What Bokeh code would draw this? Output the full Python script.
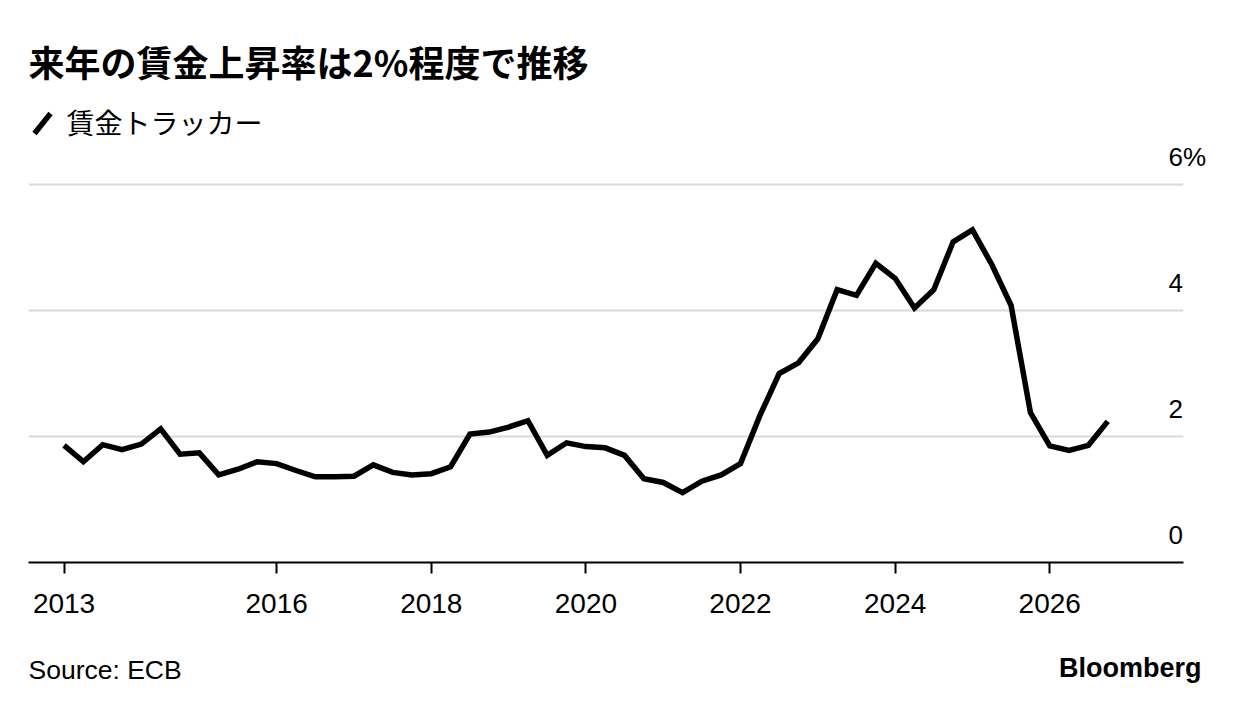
from bokeh.plotting import figure
from bokeh.layouts import column
from bokeh.models import Range1d, FixedTicker, NumeralTickFormatter, Label
from bokeh.embed import file_html
from bokeh.resources import INLINE

# ---------------- data ----------------
title_text = "来年の賃金上昇率は2%程度で推移"
series_name = "賃金トラッカー"
source_text = "Source: ECB"
brand_text = "Bloomberg"

# quarterly observations 2013Q2 .. 2026Q4
quarters = [f"{y}Q{q}" for y in range(2013, 2027) for q in range(1, 5)][1:]
wage_tracker = [
    1.86, 1.60, 1.87, 1.79, 1.88, 2.12, 1.72, 1.74, 1.39, 1.48,
    1.60, 1.57, 1.46, 1.36, 1.36, 1.37, 1.55, 1.43, 1.39, 1.41,
    1.52, 2.04, 2.07, 2.15, 2.25, 1.70, 1.90, 1.84, 1.82, 1.70,
    1.33, 1.27, 1.11, 1.29, 1.39, 1.57, 2.33, 3.00, 3.17, 3.55,
    4.33, 4.24, 4.75, 4.51, 4.04, 4.33, 5.09, 5.28, 4.73, 4.08,
    2.38, 1.85, 1.78, 1.86, 2.24,
]
x_ticks = [2013.25, 2016, 2018, 2020, 2022, 2024, 2026]
x_tick_labels = ["2013", "2016", "2018", "2020", "2022", "2024", "2026"]
y_ticks = [0, 2, 4, 6]
y_tick_labels = ["0", "2", "4", "6%"]

x_pos = [int(q[:4]) + (int(q[-1]) - 1) / 4 for q in quarters]

# ---------------- layout constants ----------------
LATIN = "'Liberation Sans', 'Noto Sans CJK JP', sans-serif"
CJK = "'Noto Sans CJK JP', 'Liberation Sans', sans-serif"
W = 1240
MAIN_H, FOOT_H = 640, 72
FRAME_L, FRAME_R, FRAME_B = 28, 1183, 562
PX_PER_Y = 63.0
X_START, X_END = 2012.79, 2027.73
PX_PER_X = (FRAME_R - FRAME_L) / (X_END - X_START)
Y_START = 0
Y_END = FRAME_B / PX_PER_Y          # frame reaches the top of the canvas
LABEL_LIFT = 28 / PX_PER_Y          # y labels sit above their gridlines


def px2x(px):
    return X_START + (px - FRAME_L) / PX_PER_X


def px2y(py):
    return (FRAME_B - py) / PX_PER_Y


# ---------------- main figure ----------------
p = figure(
    width=W, height=MAIN_H,
    x_range=Range1d(X_START, X_END), y_range=Range1d(Y_START, Y_END),
    output_backend="svg", toolbar_location=None, y_axis_location="right",
    min_border_left=FRAME_L, min_border_right=W - FRAME_R,
    min_border_top=0, min_border_bottom=MAIN_H - FRAME_B,
)
p.outline_line_color = None
p.background_fill_color = "white"
p.border_fill_color = "white"

# grid
p.xgrid.grid_line_color = None
p.ygrid.ticker = FixedTicker(ticks=y_ticks)
p.ygrid.grid_line_color = "#d9d9d9"
p.ygrid.grid_line_width = 2

# x axis
ax = p.xaxis[0]
ax.ticker = FixedTicker(ticks=x_ticks)
ax.formatter = NumeralTickFormatter(format="0")
ax.major_label_overrides = {t: l for t, l in zip(x_ticks, x_tick_labels)}
ax.axis_line_color = "black"
ax.axis_line_width = 2
ax.major_tick_line_color = "black"
ax.major_tick_line_width = 2
ax.major_tick_out = 11
ax.major_tick_in = 0
ax.minor_tick_line_color = None
ax.major_label_standoff = 20
ax.major_label_text_font = LATIN
ax.major_label_text_font_size = "28px"
ax.major_label_text_color = "black"

# y axis on the right: labels lifted above gridlines, drawn just inside the frame edge
yax = p.yaxis[0]
lifted = [t + LABEL_LIFT for t in y_ticks]
yax.ticker = FixedTicker(ticks=lifted)
yax.major_label_overrides = {t: l for t, l in zip(lifted, y_tick_labels)}
yax.axis_line_color = None
yax.major_tick_line_color = None
yax.minor_tick_line_color = None
yax.major_tick_out = 0
yax.major_tick_in = 0
yax.major_label_standoff = -15
yax.major_label_text_font = LATIN
yax.major_label_text_font_size = "26px"
yax.major_label_text_color = "black"

# series line
p.line(x_pos, wage_tracker, line_color="black", line_width=5.5, line_join="miter")

# title
p.add_layout(Label(
    x=px2x(28), y=px2y(60), text=title_text,
    text_align="left", text_baseline="middle",
    text_font=CJK, text_font_size="36px", text_font_style="bold",
    text_color="black",
))

# legend: slash + label
p.line([px2x(34), px2x(50)], [px2y(133), px2y(113)], line_color="black",
       line_width=5.5, line_cap="butt")
p.add_layout(Label(
    x=px2x(66), y=px2y(121), text=series_name,
    text_align="left", text_baseline="middle",
    text_font=CJK, text_font_size="28px", text_color="black",
))

# ---------------- footer ----------------
f = figure(
    width=W, height=FOOT_H, x_range=Range1d(0, W), y_range=Range1d(0, FOOT_H),
    output_backend="svg", toolbar_location=None,
    x_axis_location=None, y_axis_location=None,
    min_border=0,
)
if "frame_align" in f.properties():
    f.frame_align = False
    p.frame_align = False
f.outline_line_color = None
f.grid.visible = False
f.background_fill_color = "white"
f.border_fill_color = "white"
f.add_layout(Label(
    x=28, y=FOOT_H - (669 - MAIN_H), text=source_text,
    text_align="left", text_baseline="middle",
    text_font=LATIN, text_font_size="26.5px", text_color="black",
))
f.add_layout(Label(
    x=1201, y=FOOT_H - (667 - MAIN_H), text=brand_text,
    text_align="right", text_baseline="middle",
    text_font=LATIN, text_font_size="27px", text_font_style="bold",
    text_color="black",
))

layout = column(p, f, spacing=0)
open("out.html", "w").write(file_html(layout, INLINE))
